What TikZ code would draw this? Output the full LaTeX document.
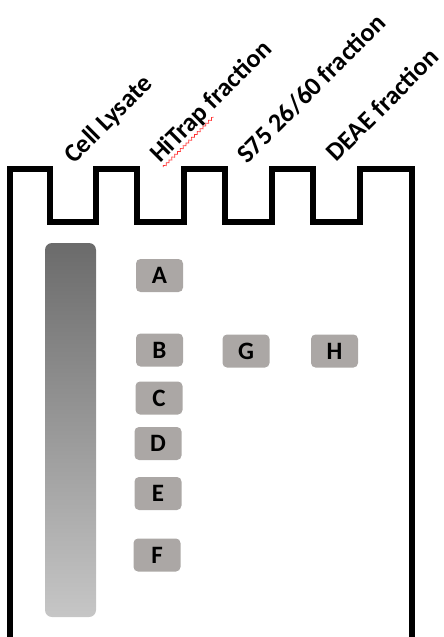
\documentclass[tikz,border=0pt]{standalone}
\usepackage{fontspec}
\setmainfont{Carlito}
\usetikzlibrary{decorations.pathmorphing}
\definecolor{bandgray}{HTML}{ABA7A5}
\definecolor{lysatetop}{HTML}{6B6B6B}
\definecolor{lysatebot}{HTML}{C6C6C6}
\tikzset{
  gel/.style={line width=6pt, miter limit=10, line join=miter},
  band/.style={rounded corners=4.5pt, fill=bandgray, minimum width=47pt,
    minimum height=33pt, inner sep=0pt,
    font=\bfseries\fontsize{25}{25}\selectfont},
  lanelabel/.style={rotate=45, anchor=base west, inner sep=0pt,
    font=\bfseries\fontsize{26}{26}\selectfont},
  squiggle/.style={draw=red!80!white, line width=0.7pt,
    decorate, decoration={snake, amplitude=1.1pt, segment length=4pt}}
}
\begin{document}
\begin{tikzpicture}[x=1pt, y=-1pt]
\useasboundingbox (0,0) rectangle (444,637);

% gel outline with the comb of four wells
\draw[gel] (10,640) -- (10,169) -- (50,169) -- (50,222) -- (96,222)
  -- (96,169) -- (137,169) -- (137,222) -- (184,222) -- (184,169)
  -- (225,169) -- (225,222) -- (272,222) -- (272,169) -- (313,169)
  -- (313,222) -- (360,222) -- (360,169) -- (412,169) -- (412,640);

% lane labels
\node[lanelabel] (lysate) at (74,165) {Cell Lysate};
\node[lanelabel] (hitrap) at (160,164) {HiTrap fraction};
\node[lanelabel] (sfive) at (247,165) {S75 26/60 fraction};
\node[lanelabel] (deae) at (336.5,163) {DEAE fraction};

% wavy underline below "HiTrap"
\begin{scope}[shift={(hitrap.base west)}, rotate=45]
  \draw[squiggle] (0,4.5) -- (71,4.5);
\end{scope}

% smeared cell lysate lane
\shade[top color=lysatetop, bottom color=lysatebot, rounded corners=7pt]
  (45,243) rectangle (96,617);

% bands
\node[band] (A) at (159.5,275.5) {A};
\node[band] (B) at (159.5,350) {B};
\node[band] (C) at (159,398) {C};
\node[band] (D) at (158,443.5) {D};
\node[band] (E) at (158,493.5) {E};
\node[band] (F) at (157,555) {F};
\node[band] (G) at (246,351) {G};
\node[band] (H) at (334.5,351) {H};
\end{tikzpicture}
\end{document}
